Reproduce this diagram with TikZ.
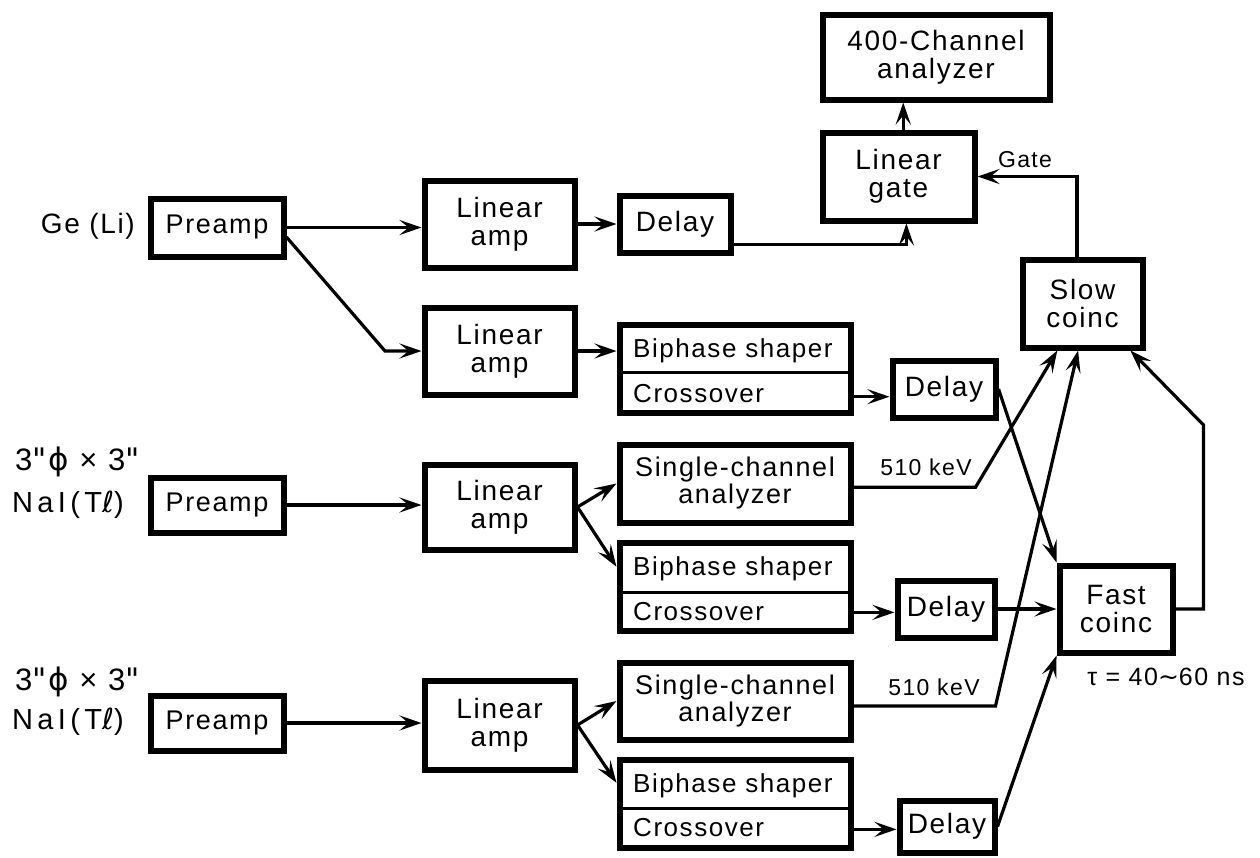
\documentclass[tikz,border=0pt]{standalone}
\usepackage{fontspec}
\setmainfont{Liberation Sans}[LetterSpace=6]
\newfontfamily\dv{DejaVu Sans}[LetterSpace=6]
\newfontfamily\naifont{Liberation Sans}[LetterSpace=15]
\newfontfamily\naidv{DejaVu Sans}[LetterSpace=15]
\usetikzlibrary{arrows.meta,calc}
\begin{document}
\begin{tikzpicture}[x=1pt,y=-1pt,
  box/.style={draw, line width=6pt, inner sep=0pt, align=center, font=\fontsize{28}{28}\selectfont},
  prebox/.style={box, font=\fontsize{27}{27}\selectfont, minimum width=133pt},
  arr/.style={line width=3.2pt, -{Stealth[length=22pt,width=15pt,inset=9pt]}},
  divline/.style={line width=3pt},
  lbl/.style={inner sep=0pt, font=\fontsize{28}{28}\selectfont},
  small/.style={inner sep=0pt, font=\fontsize{23}{23}\selectfont},
  bstext/.style={inner sep=0pt, anchor=base west, font=\fontsize{26}{26}\selectfont}]
\useasboundingbox (0,0) rectangle (1260,857);
\fill[white] (0,0) rectangle (1260,857);

% preamps
\node[prebox, minimum height=58pt] (pre1) at (217,227.5) {Preamp};
\node[prebox, minimum height=55pt] (pre2) at (217,505) {Preamp};
\node[prebox, minimum height=55pt] (pre3) at (217,723) {Preamp};

% linear amps
\node[box, minimum width=150pt, minimum height=87pt] (la1) at (499.5,224) {Linear\\amp};
\node[box, minimum width=150pt, minimum height=87pt] (la2) at (499.5,351) {Linear\\amp};
\node[box, minimum width=150pt, minimum height=85pt] (la3) at (499.5,507) {Linear\\amp};
\node[box, minimum width=150pt, minimum height=89pt] (la4) at (499.5,725) {Linear\\amp};

% delays
\node[box, minimum width=111pt, minimum height=57pt] (d1) at (675,224) {Delay};
\node[box, minimum width=103pt, minimum height=57pt] (d2) at (944,389) {Delay};
\node[box, minimum width=97pt, minimum height=57pt] (d3) at (946,609) {Delay};
\node[box, minimum width=95pt, minimum height=52pt] (d4) at (947,826.5) {Delay};

% biphase / crossover boxes
\node[box, minimum width=231pt, minimum height=88pt] (bs1) at (735,368.5) {};
\node[box, minimum width=231pt, minimum height=88pt] (bs2) at (735,586.5) {};
\node[box, minimum width=231pt, minimum height=88pt] (bs3) at (735,803.5) {};
\draw[divline] (bs1.west |- 0,372) -- (bs1.east |- 0,372);
\draw[divline] (bs2.west |- 0,592) -- (bs2.east |- 0,592);
\draw[divline] (bs3.west |- 0,808) -- (bs3.east |- 0,808);
\node[bstext] (bs1a) at (633,357) {Biphase shaper};
\node[bstext] (bs1b) at (633,402) {Crossover};
\node[bstext] (bs2a) at (633,575) {Biphase shaper};
\node[bstext] (bs2b) at (633,620) {Crossover};
\node[bstext] (bs3a) at (633,792) {Biphase shaper};
\node[bstext] (bs3b) at (633,836) {Crossover};

% single-channel analyzers
\node[box, font=\fontsize{27}{27}\selectfont, minimum width=231pt, minimum height=78pt] (sca1) at (735,483.5) {Single-channel\\analyzer};
\node[box, font=\fontsize{27}{27}\selectfont, minimum width=231pt, minimum height=77pt] (sca2) at (735,701) {Single-channel\\analyzer};

% right part
\node[box, minimum width=152pt, minimum height=88pt] (lg) at (898.5,176.5) {Linear\\gate};
\node[box, minimum width=227pt, minimum height=85pt] (an) at (936,57) {400-Channel\\analyzer};
\node[box, minimum width=120pt, minimum height=88pt] (slow) at (1082.5,303.5) {Slow\\coinc};
\node[box, minimum width=113pt, minimum height=87pt] (fast) at (1116,609) {Fast\\coinc};

% labels
\node[lbl, anchor=east] (ge) at (135,226) {Ge (Li)};
\node[lbl, font=\fontsize{31}{31}\selectfont, anchor=west] (nai1a) at (15,462) {3{\dv\symbol{34}}{\dv ϕ} × 3{\dv\symbol{34}}};
\node[lbl, font=\naifont\fontsize{29}{29}\selectfont, anchor=west] (nai1b) at (12,505) {NaI(T{\naidv ℓ})};
\node[lbl, font=\fontsize{31}{31}\selectfont, anchor=west] (nai2a) at (15,682) {3{\dv\symbol{34}}{\dv ϕ} × 3{\dv\symbol{34}}};
\node[lbl, font=\naifont\fontsize{29}{29}\selectfont, anchor=west] (nai2b) at (12,722) {NaI(T{\naidv ℓ})};
\node[small] (gatel) at (1025,160) {Gate};
\node[small] (kev1) at (926,467) {510 keV};
\node[small] (kev2) at (934,687) {510 keV};
\node[small, font=\fontsize{25}{25}\selectfont] (tau) at (1166,677) {τ = 40{\dv ∼}60 ns};

% connectors: Ge(Li)
\draw[arr] (pre1.east) -- (pre1.east -| la1.west);
\coordinate (p1b) at (385,351);
\draw[arr] ($(pre1.north east)!0.65!(pre1.south east)$) -- (p1b) -- (la2.west);
\draw[arr] (la1.east) -- (d1.west);
\draw[arr] ($(d1.north east)!0.83!(d1.south east)$) -| ($(lg.south west)!0.55!(lg.south east)$);
\coordinate (lgt) at ($(lg.north west)!0.53!(lg.north east)$);
\draw[arr] (lgt) -- (lgt |- an.south);
\coordinate (slt) at ($(slow.north west)!0.456!(slow.north east)$);
\draw[arr] (slt) |- (lg.east);
\draw[arr] (la2.east) -- (la2.east -| bs1.west);
\coordinate (x1) at ($(bs1.east)!0.6!(bs1.south east)$);
\draw[arr] (x1) -- (x1 -| d2.west);
\draw[arr] (d2.east) -- (fast.north west);

% NaI 1
\draw[arr] (pre2.east) -- (pre2.east -| la3.west);
\draw[arr] (la3.east) -- (sca1.west);
\draw[arr] (la3.east) -- ($(bs2.north west)!0.29!(bs2.south west)$);
\draw[arr] ($(sca1.east)!0.09!(sca1.south east)$) -- ++(122,0) -- ($(slow.south west)!0.3!(slow.south east)$);
\coordinate (x2) at ($(bs2.east)!0.55!(bs2.south east)$);
\draw[arr] (x2) -- (x2 -| d3.west);
\draw[arr] (d3.east) -- (fast.west);
\coordinate (fr) at ($(fast.east)+(28,0)$);
\draw[arr] (fast.east) -- (fr) -- (fr |- 0,425) -- ($(slow.south west)!0.88!(slow.south east)$);

% NaI 2
\draw[arr] (pre3.east) -- (pre3.east -| la4.west);
\draw[arr] (la4.east) -- (sca2.west);
\draw[arr] (la4.east) -- ($(bs3.north west)!0.28!(bs3.south west)$);
\draw[arr] ($(sca2.east)!0.12!(sca2.south east)$) -- ++(142,0) -- ($(slow.south west)!0.465!(slow.south east)$);
\coordinate (x3) at ($(bs3.east)!0.55!(bs3.south east)$);
\draw[arr] (x3) -- (x3 -| d4.west);
\draw[arr] (d4.east) -- (fast.south west);
\end{tikzpicture}
\end{document}
